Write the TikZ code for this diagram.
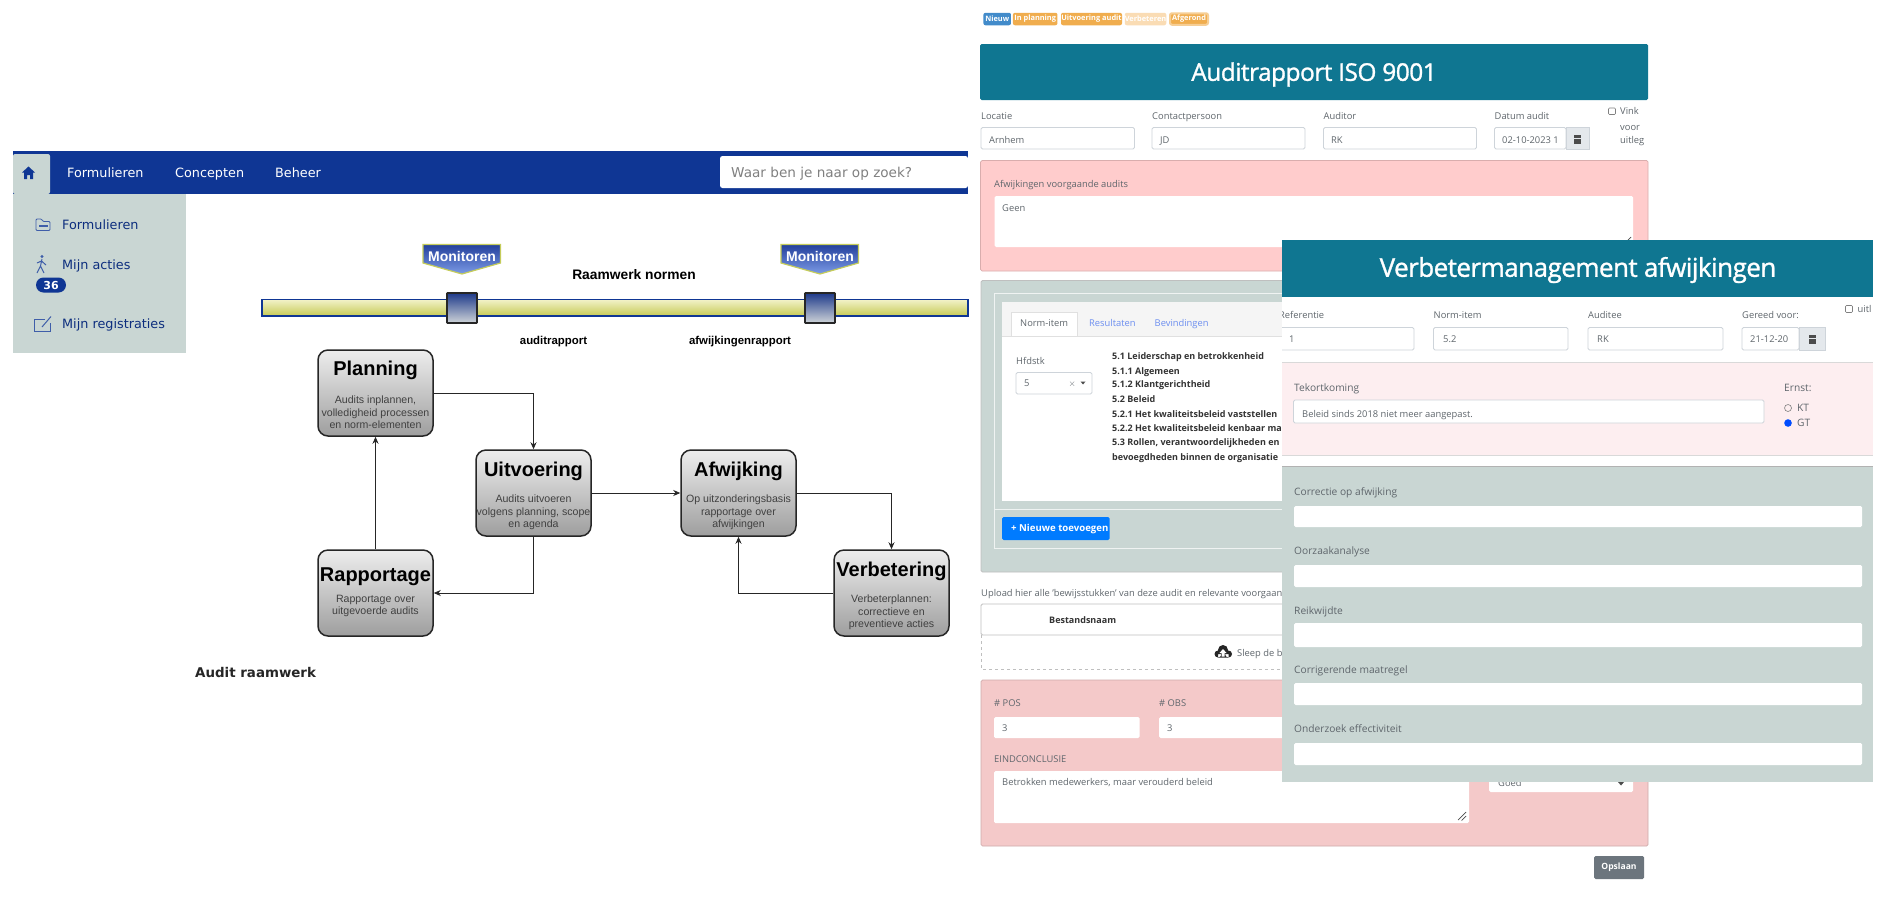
\documentclass[tikz,border=0pt]{standalone}
\usepackage{fontspec}
\setmainfont{Open Sans}
\newfontfamily\arialfont{Liberation Sans}
\newfontfamily\navfont{DejaVu Sans}
\usetikzlibrary{positioning,arrows.meta}
\definecolor{navblue}{HTML}{0F3694}
\definecolor{sidegrey}{HTML}{C9D6D3}
\definecolor{tealhead}{HTML}{0F7691}
\definecolor{palered}{HTML}{FFCCCC}
\definecolor{palered2}{HTML}{F4C9C9}
\definecolor{blush}{HTML}{FDEEF0}
\definecolor{labelgrey}{HTML}{5F666C}
\definecolor{inputline}{HTML}{CED4DA}
\definecolor{orangebadge}{HTML}{F0AD4E}
\definecolor{paleorange}{HTML}{FADCB4}
\definecolor{bluebadge}{HTML}{428BCA}
\definecolor{linkblue}{HTML}{6C8EF0}
\definecolor{btnblue}{HTML}{007BFF}
\definecolor{btngrey}{HTML}{6C757D}
\definecolor{addongrey}{HTML}{E4E8EC}
\definecolor{bandtop}{HTML}{F2F2C8}
\definecolor{bandlow}{HTML}{C6CA55}
\definecolor{shieldedge}{HTML}{C5CC5A}
\definecolor{shieldtop}{HTML}{23409C}
\definecolor{shieldlow}{HTML}{7C9BE6}
\definecolor{stoptop}{HTML}{1E3A8A}
\definecolor{stoplow}{HTML}{CFD4D8}
\tikzset{
  lbl/.style={anchor=west,inner sep=0pt,text=labelgrey,text height=8pt,text depth=1pt,font=\fontsize{9.35}{11}\selectfont},
  biglbl/.style={lbl,font=\fontsize{10.2}{12}\selectfont},
  listitem/.style={anchor=west,inner sep=0pt,text=black!80,text height=7.5pt,text depth=1.5pt,font=\bfseries\fontsize{9}{11}\selectfont},
  navitem/.style={anchor=west,inner sep=0pt,text=white,text height=11pt,text depth=2pt,font=\navfont\fontsize{12.8}{16}\selectfont},
  sideitem/.style={anchor=west,inner sep=0pt,text=navblue!85!black,text height=11pt,text depth=2pt,font=\navfont\fontsize{12.8}{16}\selectfont},
  inbox/.style={fill=white,draw=inputline,rounded corners=1.5pt,line width=.8pt},
  fieldbox/.style={fill=white,rounded corners=1.5pt},
  addon/.style={fill=addongrey,draw=inputline,line width=.8pt},
  badge/.style={inner sep=0pt,rounded corners=2pt,text=white,font=\bfseries\fontsize{7.4}{9}\selectfont},
  flowbox/.style={rectangle,rounded corners=10pt,draw=black!85,line width=1.5pt,
    top color=black!7,bottom color=black!38,minimum width=115pt,minimum height=86pt,
    inner sep=0pt,align=center},
  flowtitle/.style={inner sep=0pt,font=\arialfont\bfseries\fontsize{20}{24}\selectfont},
  flowtext/.style={inner sep=0pt,align=center,text=black!75,
    font=\arialfont\fontsize{10.6}{12.3}\selectfont},
  flowlink/.style={-{Stealth[length=7pt,width=6pt]},line width=.8pt,black!85},
  stop/.style={draw=black!85,line width=1.6pt,top color=stoptop,bottom color=stoplow,rounded corners=.5pt},
  shield/.style={draw=shieldedge,line width=1.2pt,top color=shieldtop,bottom color=shieldlow},
  ribbon/.style={draw=navblue,line width=1.2pt,top color=bandtop,bottom color=bandlow},
  moncap/.style={inner sep=0pt,text=white,font=\arialfont\bfseries\fontsize{14}{16}\selectfont},
  norm/.style={inner sep=0pt,font=\arialfont\bfseries\fontsize{11.4}{14}\selectfont},
}
\begin{document}
\begin{tikzpicture}[x=1pt,y=-1pt,on grid]
  \useasboundingbox[fill=white] (0,0) rectangle (1889,903);

  \fill[navblue] (13,151) rectangle (968,194);
  \fill[sidegrey,rounded corners=2pt] (13,194) -- (13,154) -- (50,154) -- (50,194) -- cycle;
  \fill[sidegrey] (13,194) rectangle (186,353);
  \fill[white,rounded corners=2.5pt] (720,156) -- (720,188) -- (968,188) -- (968,156) -- cycle;
  \fill[navblue] (28.5,166.5) -- (35,172.5) -- (33,172.5) -- (33,179) -- (30,179) -- (30,175) -- (27,175) -- (27,179) -- (24,179) -- (24,172.5) -- (22,172.5) -- cycle;
  \node[navitem] (navform) at (67,173) {Formulieren};
  \node[navitem] (navconc) [right=108pt of navform.west,anchor=west] {Concepten};
  \node[navitem] (navbeh) [right=100pt of navconc.west,anchor=west] {Beheer};
  \node[navitem,text=black!50,font=\navfont\fontsize{13.6}{16}\selectfont] (search) at (731,173) {Waar ben je naar op zoek?};

  \draw[navblue!80,line width=.8pt,rounded corners=1pt] (36,219) -- (36,230.5) -- (50,230.5) -- (50,221.5) -- (43,221.5) -- (41.5,219) -- cycle;
  \fill[navblue!80] (38.5,224.5) rectangle (47.5,227);
  \node[sideitem] (sideform) at (62,225) {Formulieren};
  \draw[navblue!80,line width=1pt] (42,259) -- (40.5,266) -- (37,273) (40.5,266) -- (44,273) (37,263) -- (41.5,261) -- (46,265);
  \fill[navblue!80] (42,256.5) circle (1.6);
  \node[sideitem] (sideact) at (62,265) {Mijn acties};
  \node[fill=navblue,text=white,rounded corners=7.5pt,inner sep=0pt,minimum width=30pt,minimum height=15pt,font=\navfont\bfseries\fontsize{11}{13}\selectfont] (actbadge) at (51,285) {36};
  \draw[navblue!80,line width=.8pt] (45,319) -- (34,319) -- (34,331) -- (50,331) -- (50,323);
  \draw[navblue!80,line width=1pt] (42,327) -- (51,316.5);
  \node[sideitem] (sidereg) at (62,324) {Mijn registraties};

  \path[ribbon] (262,299.5) rectangle (968,316);
  \path[stop] (447,293) rectangle (477,323);
  \path[stop] (805,293) rectangle (835,323);
  \path[shield] (423,244.5) -- (500.5,244.5) -- (500.5,263) -- (462,274) -- (423,263) -- cycle;
  \path[shield] (781,244.5) -- (858.5,244.5) -- (858.5,263) -- (820,274) -- (781,263) -- cycle;
  \node[moncap] (mon1) at (462,256) {Monitoren};
  \node[moncap] (mon2) [right=358pt of mon1] {Monitoren};
  \node[inner sep=0pt,font=\arialfont\bfseries\fontsize{13.8}{17}\selectfont] (kader) at (634,275) {Raamwerk normen};
  \node[norm] (rap1) at (553.5,342) {auditrapport};
  \node[norm] (rap2) [right=186.5pt of rap1] {afwijkingenrapport};

  \node[flowbox] (planning) at (375.5,393) {};
  \node[flowbox] (uitvoering) [below right=100pt and 158pt of planning] {};
  \node[flowbox] (afwijking) [right=205pt of uitvoering] {};
  \node[flowbox] (verbetering) [below right=100pt and 153pt of afwijking] {};
  \node[flowbox] (rapportage) [below=200pt of planning] {};
  \node[flowtitle] (tplanning) at (375.5,370) {Planning};
  \node[flowtitle] (tuitvoering) at (533.5,471) {Uitvoering};
  \node[flowtitle] (tafwijking) at (738.5,471) {Afwijking};
  \node[flowtitle] (tverbetering) at (891.5,571) {Verbetering};
  \node[flowtitle] (trapportage) at (375.5,577) {Rapportage};
  \node[flowtext] (dplanning) at (375.5,412.5) {Audits inplannen,\\volledigheid processen\\en norm-elementen};
  \node[flowtext] (duitvoering) at (533.5,512.5) {Audits uitvoeren\\volgens planning, scope\\en agenda};
  \node[flowtext] (dafwijking) at (738.5,512.5) {Op uitzonderingsbasis\\rapportage over\\afwijkingen};
  \node[flowtext] (dverbetering) at (891.5,612.5) {Verbeterplannen:\\correctieve en\\preventieve acties};
  \node[flowtext] (drapportage) at (375.5,606) {Rapportage over\\uitgevoerde audits};
  \draw[flowlink] (planning.east) -| (uitvoering.north);
  \draw[flowlink] (uitvoering.east) -- (afwijking.west);
  \draw[flowlink] (afwijking.east) -| (verbetering.north);
  \draw[flowlink] (verbetering.west) -| (afwijking.south);
  \draw[flowlink] (uitvoering.south) |- (rapportage.east);
  \draw[flowlink] (rapportage.north) -- (planning.south);
  \node[anchor=west,inner sep=0pt,text=black!85,font=\navfont\bfseries\fontsize{13.4}{16}\selectfont] (caption) at (195,672.5) {Audit raamwerk};

  \node[badge,fill=bluebadge,minimum width=27.5pt,minimum height=12.5pt] (bnew) at (997.2,19) {Nieuw};
  \node[badge,fill=orangebadge,minimum width=44.5pt,minimum height=12.5pt] (bplan) at (1035.2,19) {In planning};
  \node[badge,fill=orangebadge,minimum width=61pt,minimum height=12.5pt] (bexec) at (1091.5,19) {Uitvoering audit};
  \node[badge,fill=paleorange,minimum width=41pt,minimum height=12.5pt] (bimpr) at (1145.5,19) {Verbeteren};
  \node[badge,fill=orangebadge,draw=orangebadge!60,line width=2pt,minimum width=38pt,minimum height=11.5pt] (bdone) at (1189,19) {Afgerond};

  \fill[tealhead,rounded corners=1.5pt] (980,44) rectangle (1648,100);
  \node[inner sep=0pt,text=white,font=\fontsize{24.4}{30}\selectfont\addfontfeature{LetterSpace=-2,FakeBold=1.2}] (title1) at (1314,74.5) {Auditrapport ISO 9001};
  \node[lbl] (l1) at (981,116) {Locatie};
  \node[lbl] (l2) at (1152,116) {Contactpersoon};
  \node[lbl] (l3) at (1323.5,116) {Auditor};
  \node[lbl] (l4) at (1494.5,116) {Datum audit};
  \path[inbox] (981,127.5) rectangle (1134.5,149);
  \path[inbox] (1152,127.5) rectangle (1305,149);
  \path[inbox] (1323.5,127.5) rectangle (1476.5,149);
  \path[inbox] (1494.5,127.5) rectangle (1566,149);
  \path[addon] (1566,127.5) rectangle (1589,149);
  \fill[black!70] (1574,135) rectangle (1581,144);
  \draw[addongrey,line width=.6pt] (1574,138) -- (1581,138);
  \node[lbl] (v1) at (989,139.5) {Arnhem};
  \node[lbl] (v2) at (1160,139.5) {JD};
  \node[lbl] (v3) at (1331,139.5) {RK};
  \node[lbl] (v4) at (1502,139.5) {02-10-2023 1};
  \draw[black!50,line width=.6pt,rounded corners=1pt] (1608.5,108) rectangle (1615.5,114.5);
  \node[lbl] (vink) at (1620,111) {Vink};
  \node[lbl] (voor) at (1620,126.5) {voor};
  \node[lbl] (uitleg) at (1620,140) {uitleg};

  \path[fill=palered,draw=palered!85!black,line width=.7pt,rounded corners=1.5pt] (980.5,160.5) rectangle (1648,271);
  \node[lbl] (prev) at (994,184) {Afwijkingen voorgaande audits};
  \path[fieldbox] (994.5,196) rectangle (1633,247);
  \node[lbl] (geen) at (1002,208) {Geen};
  \draw[black!70,line width=.7pt] (1622,246) -- (1631,237);

  \path[fill=sidegrey,draw=black!25,line width=.8pt,rounded corners=1.5pt] (981,280.5) rectangle (1648,572);
  \draw[white!70!sidegrey,line width=.6pt] (994,293) rectangle (1600,548);
  \draw[white!70!sidegrey,line width=.6pt] (994,509) -- (1600,509);
  \fill[white] (1002,302) rectangle (1600,501);
  \fill[black!4] (1002,302) rectangle (1600,336);
  \draw[black!12,line width=.6pt] (1002,336) -- (1600,336);
  \path[fill=white,draw=black!12,line width=.6pt] (1011,336) -- (1011,312) -- (1077,312) -- (1077,336);
  \node[lbl] (tab1) at (1020,323) {Norm-item};
  \node[lbl,text=linkblue] (tab2) at (1089,323) {Resultaten};
  \node[lbl,text=linkblue] (tab3) at (1154.5,323) {Bevindingen};
  \node[lbl] (hfd) at (1016,361) {Hfdstk};
  \path[inbox] (1016,372.5) rectangle (1092,394);
  \node[lbl] (hfdval) at (1024,383) {5};
  \node[lbl] (hfdx) at (1068.5,383) {$\times$};
  \fill[black!70] (1080.5,381.5) -- (1085.5,381.5) -- (1083,384.5) -- cycle;
  \node[listitem] (n1) at (1112,356) {5.1 Leiderschap en betrokkenheid};
  \node[listitem] (n2) at (1112,371) {5.1.1 Algemeen};
  \node[listitem] (n3) at (1112,384.5) {5.1.2 Klantgerichtheid};
  \node[listitem] (n4) at (1112,399) {5.2 Beleid};
  \node[listitem] (n5) at (1112,414) {5.2.1 Het kwaliteitsbeleid vaststellen};
  \node[listitem] (n6) at (1112,428) {5.2.2 Het kwaliteitsbeleid kenbaar maken};
  \node[listitem] (n7) at (1112,442) {5.3 Rollen, verantwoordelijkheden en};
  \node[listitem] (n8) at (1112,457) {bevoegdheden binnen de organisatie};
  \fill[btnblue,rounded corners=1.5pt] (1002,517) rectangle (1109.5,540);
  \node[anchor=west,inner sep=0pt,text=white,font=\bfseries\fontsize{9.6}{11}\selectfont] (addnew) at (1011,528.5) {\textbf{+} Nieuwe toevoegen};

  \node[lbl] (upload) at (981,593) {Upload hier alle 'bewijsstukken' van deze audit en relevante voorgaande};
  \path[fill=white,draw=black!25,line width=.8pt,rounded corners=1.5pt] (981,604) rectangle (1600,635);
  \node[listitem] (bestand) at (1049,620) {Bestandsnaam};
  \draw[black!25,dashed,line width=.7pt] (981,635) -- (981,669) -- (1600,669);
  \fill[black!85] (1223,650) circle (5) (1218,654) circle (3.5) (1228.5,654) circle (3.5) (1218,654) rectangle (1228.5,657.5);
  \fill[white] (1223,649) -- (1226.5,653) -- (1224.5,653) -- (1224.5,656.5) -- (1221.5,656.5) -- (1221.5,653) -- (1219.5,653) -- cycle;
  \node[lbl] (sleep) at (1237,653) {Sleep de b};

  \path[fill=palered2,draw=palered2!85!black,line width=.7pt,rounded corners=1.5pt] (981,680) rectangle (1648,846);
  \node[lbl] (pos) at (994,703) {\# POS};
  \node[lbl] (obs) at (1159,703) {\# OBS};
  \path[fieldbox] (994,717) rectangle (1139.5,738);
  \path[fieldbox] (1159,717) rectangle (1304,738);
  \node[lbl] (posval) at (1002,727.5) {3};
  \node[lbl] (obsval) at (1167,727.5) {3};
  \node[lbl] (eind) at (994,759) {EINDCONCLUSIE};
  \path[fieldbox] (994,771) rectangle (1469,823);
  \node[lbl] (concl) at (1002,782) {Betrokken medewerkers, maar verouderd beleid};
  \draw[black!70,line width=.7pt] (1458,820) -- (1466,812) (1461.5,820.5) -- (1466,816);
  \path[fieldbox] (1489,770) rectangle (1633,792);
  \node[lbl] (goed) at (1498,783) {Goed};
  \fill[black!70] (1618,782) -- (1624,782) -- (1621,785.5) -- cycle;
  \fill[btngrey,rounded corners=1.5pt] (1594,856) rectangle (1644,879);
  \node[inner sep=0pt,text=white,font=\bfseries\fontsize{8.6}{11}\selectfont] (save) at (1619,867.5) {Opslaan};

  \begin{scope}
    \clip (1282,240) rectangle (1873,782);
    \fill[white] (1282,240) rectangle (1873,782);
    \fill[tealhead] (1282,240) rectangle (1873,297);
    \node[lbl] (r1) at (1279,315) {Referentie};
    \node[lbl] (r2) at (1433.5,315) {Norm-item};
    \node[lbl] (r3) at (1588,315) {Auditee};
    \node[lbl] (r4) at (1742,315) {Gereed voor:};
    \path[inbox] (1270,327.5) rectangle (1414,350);
    \path[inbox] (1433.5,327.5) rectangle (1568,350);
    \path[inbox] (1588,327.5) rectangle (1723,350);
    \path[inbox] (1742,327.5) rectangle (1799,350);
    \path[addon] (1799,327.5) rectangle (1825,350);
    \fill[black!70] (1808.5,335) rectangle (1815.5,344);
    \draw[addongrey,line width=.6pt] (1808.5,338) -- (1815.5,338);
    \node[lbl] (s1) at (1289,339) {1};
    \node[lbl] (s2) at (1443,339) {5.2};
    \node[lbl] (s3) at (1597,339) {RK};
    \node[lbl] (s4) at (1750,339) {21-12-20};
    \draw[black!50,line width=.6pt,rounded corners=1pt] (1845.5,305.5) rectangle (1852.5,312.5);
    \node[lbl] (uitl) at (1857.5,309) {uitl};
    \fill[blush] (1282,362) rectangle (1873,455);
    \draw[black!15,line width=.7pt] (1282,362) -- (1873,362) (1282,455) -- (1873,455);
    \node[biglbl] (tek) at (1294,388) {Tekortkoming};
    \node[biglbl] (ernst) at (1784,388) {Ernst:};
    \path[inbox] (1293.5,400) rectangle (1764,423);
    \node[lbl] (tekval) at (1302,413.5) {Beleid sinds 2018 niet meer aangepast.};
    \draw[black!50,line width=.6pt] (1788,408) circle (3.5);
    \fill[blue!70!cyan] (1788,423) circle (3.8);
    \node[biglbl] (kt) at (1797,408) {KT};
    \node[biglbl] (gt) at (1797,423) {GT};
    \fill[sidegrey] (1282,466) rectangle (1873,782);
    \draw[black!30,line width=.9pt] (1282,466) -- (1873,466);
    \node[biglbl] (f1) at (1294,492) {Correctie op afwijking};
    \node[biglbl] (f2) at (1294,551) {Oorzaakanalyse};
    \node[biglbl] (f3) at (1294,611) {Reikwijdte};
    \node[biglbl] (f4) at (1294,670) {Corrigerende maatregel};
    \node[biglbl] (f5) at (1294,729) {Onderzoek effectiviteit};
    \path[fieldbox] (1294,506) rectangle (1862,527);
    \path[fieldbox] (1294,565) rectangle (1862,587);
    \path[fieldbox] (1294,623) rectangle (1862,647);
    \path[fieldbox] (1294,683) rectangle (1862,705);
    \path[fieldbox] (1294,743) rectangle (1862,765);
    \node[inner sep=0pt,text=white,font=\fontsize{26}{32}\selectfont\addfontfeature{LetterSpace=-2,FakeBold=1.2}] (title2) at (1578,270) {Verbetermanagement afwijkingen};
  \end{scope}
\end{tikzpicture}
\end{document}
